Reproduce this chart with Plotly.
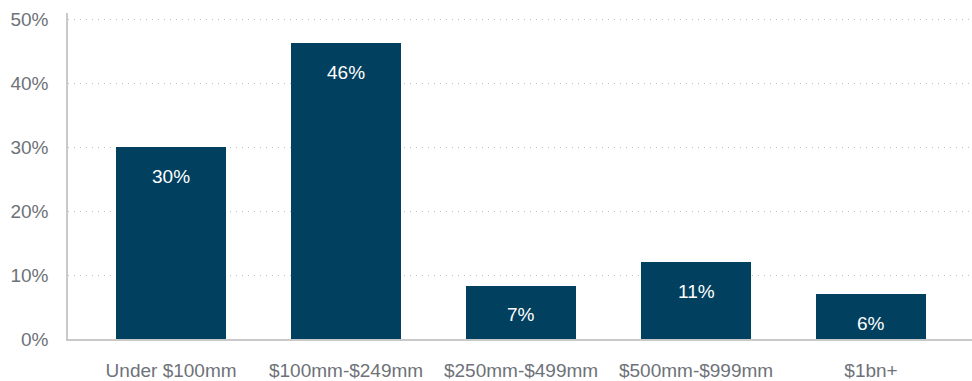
import plotly.graph_objects as go

categories = ["Under $100mm", "$100mm-$249mm", "$250mm-$499mm", "$500mm-$999mm", "$1bn+"]
bar_values = [30, 46.25, 8.3, 12, 7]
bar_labels = ["30%", "46%", "7%", "11%", "6%"]
y_ticks = [0, 10, 20, 30, 40, 50]
y_tick_text = ["0%", "10%", "20%", "30%", "40%", "50%"]

BAR = "#01415f"
GRAY = "#6e7279"
FONT = "Liberation Sans, Arial, Helvetica, sans-serif"

fig = go.Figure()
fig.add_trace(go.Bar(
    x=list(range(len(categories))), y=bar_values,
    marker=dict(color=BAR, line=dict(width=0)),
    width=0.629, hoverinfo="skip",
))

for i, (v, t) in enumerate(zip(bar_values, bar_labels)):
    fig.add_annotation(x=i, y=v, text=t, showarrow=False, yshift=-29,
                       yanchor="middle", font=dict(color="white", size=19, family=FONT))

fig.update_layout(
    width=972, height=381,
    margin=dict(l=68, r=0, t=13, b=42),
    plot_bgcolor="white", paper_bgcolor="white",
    showlegend=False,
    font=dict(family=FONT, size=19, color=GRAY),
    bargap=0,
)
fig.update_xaxes(
    range=[-0.589, 4.577],
    tickmode="array", tickvals=list(range(len(categories))), ticktext=categories,
    showgrid=False, showline=True, linecolor="#c9c9c9", linewidth=1.5,
    ticks="", ticklabelstandoff=13, zeroline=False,
    tickfont=dict(size=19, color=GRAY),
)
fig.update_yaxes(
    range=[0, 50.94],
    tickmode="array", tickvals=y_ticks, ticktext=y_tick_text,
    showgrid=True, gridcolor="#bdbdbd", griddash="1px,5px", gridwidth=1,
    showline=True, linecolor="#c9c9c9", linewidth=1.5,
    ticks="", ticklabelstandoff=14, zeroline=False,
    tickfont=dict(size=19, color=GRAY),
)

fig.write_html("out.html")
